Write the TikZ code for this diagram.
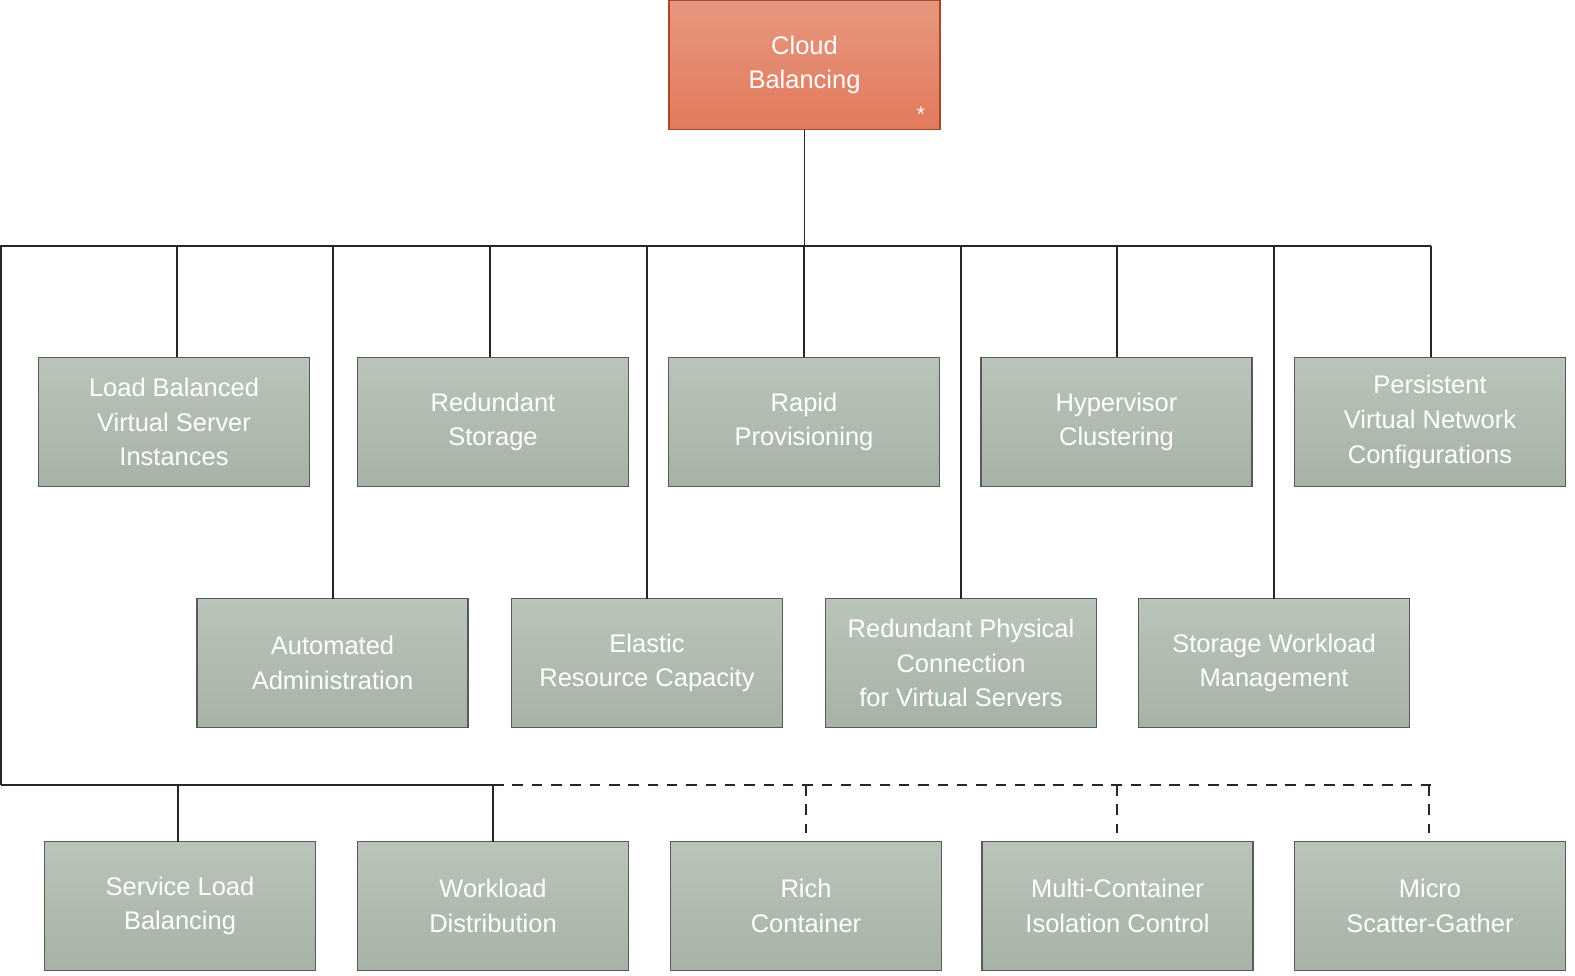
\documentclass[tikz,border=0pt]{standalone}
\usepackage{fontspec}
\setmainfont{Liberation Sans}
\begin{document}
\begin{tikzpicture}[x=0.02cm,y=-0.02cm,
  box/.style={draw=gray!70!black,line width=0.8pt,top color=green!8!gray!50,bottom color=green!8!gray!65,
    minimum width=271*0.02cm,minimum height=129*0.02cm,text=white,align=center,inner sep=0pt,
    font=\fontsize{14.5pt}{19.8pt}\selectfont},
  root/.style={box,top color=red!35!brown!60!white,bottom color=red!40!brown!75!white,draw=red!30!brown!80!black},
  ln/.style={draw=gray!30!black,line width=0.9pt},
  dl/.style={ln,dash pattern=on 6pt off 5pt}]
\useasboundingbox (0,0) rectangle (1575,976);
\node[root] (cb) at (804.5,65) {Cloud\\Balancing};
\node[text=white,font=\large] at (921,114) {*};
\node[box] (a1) at (174,422) {Load Balanced\\Virtual Server\\Instances};
\node[box] (a2) at (493,422) {Redundant\\Storage};
\node[box] (a3) at (804,422) {Rapid\\Provisioning};
\node[box] (a4) at (1116.5,422) {Hypervisor\\Clustering};
\node[box] (a5) at (1430,422) {Persistent\\Virtual Network\\Configurations};
\node[box] (b1) at (332.5,663) {Automated\\Administration};
\node[box] (b2) at (647,663) {Elastic\\Resource Capacity};
\node[box] (b3) at (961,663) {Redundant Physical\\Connection\\for Virtual Servers};
\node[box] (b4) at (1274,663) {Storage Workload\\Management};
\node[box] (c1) at (180,906) {Service Load\\Balancing};
\node[box] (c2) at (493,906) {Workload\\Distribution};
\node[box] (c3) at (806,906) {Rich\\Container};
\node[box] (c4) at (1117.5,906) {Multi-Container\\Isolation Control};
\node[box] (c5) at (1430,906) {Micro\\Scatter-Gather};
\coordinate (bl) at (1,246); \coordinate (br) at (1431,246);
\coordinate (ll) at (1,785); \coordinate (lm) at (493,785); \coordinate (lr) at (1431,785);
\draw[ln] (cb.south) -- (804.5,246);
\draw[ln] (ll) -- (bl) -- (br);
\draw[ln] (177,246) -- (177,357);
\draw[ln] (490,246) -- (490,357);
\draw[ln] (804,246) -- (804,357);
\draw[ln] (1117,246) -- (1117,357);
\draw[ln] (1431,246) -- (1431,357);
\draw[ln] (333,246) -- (333,599);
\draw[ln] (647,246) -- (647,599);
\draw[ln] (961,246) -- (961,599);
\draw[ln] (1274,246) -- (1274,599);
\draw[ln] (ll) -- (lm);
\draw[ln] (178,785) -- (178,842);
\draw[ln] (493,785) -- (493,842);
\draw[dl] (lm) -- (lr);
\draw[dl] (806,785) -- (806,833);
\draw[dl] (1117,785) -- (1117,833);
\draw[dl] (1429,785) -- (1429,833);
\end{tikzpicture}
\end{document}
